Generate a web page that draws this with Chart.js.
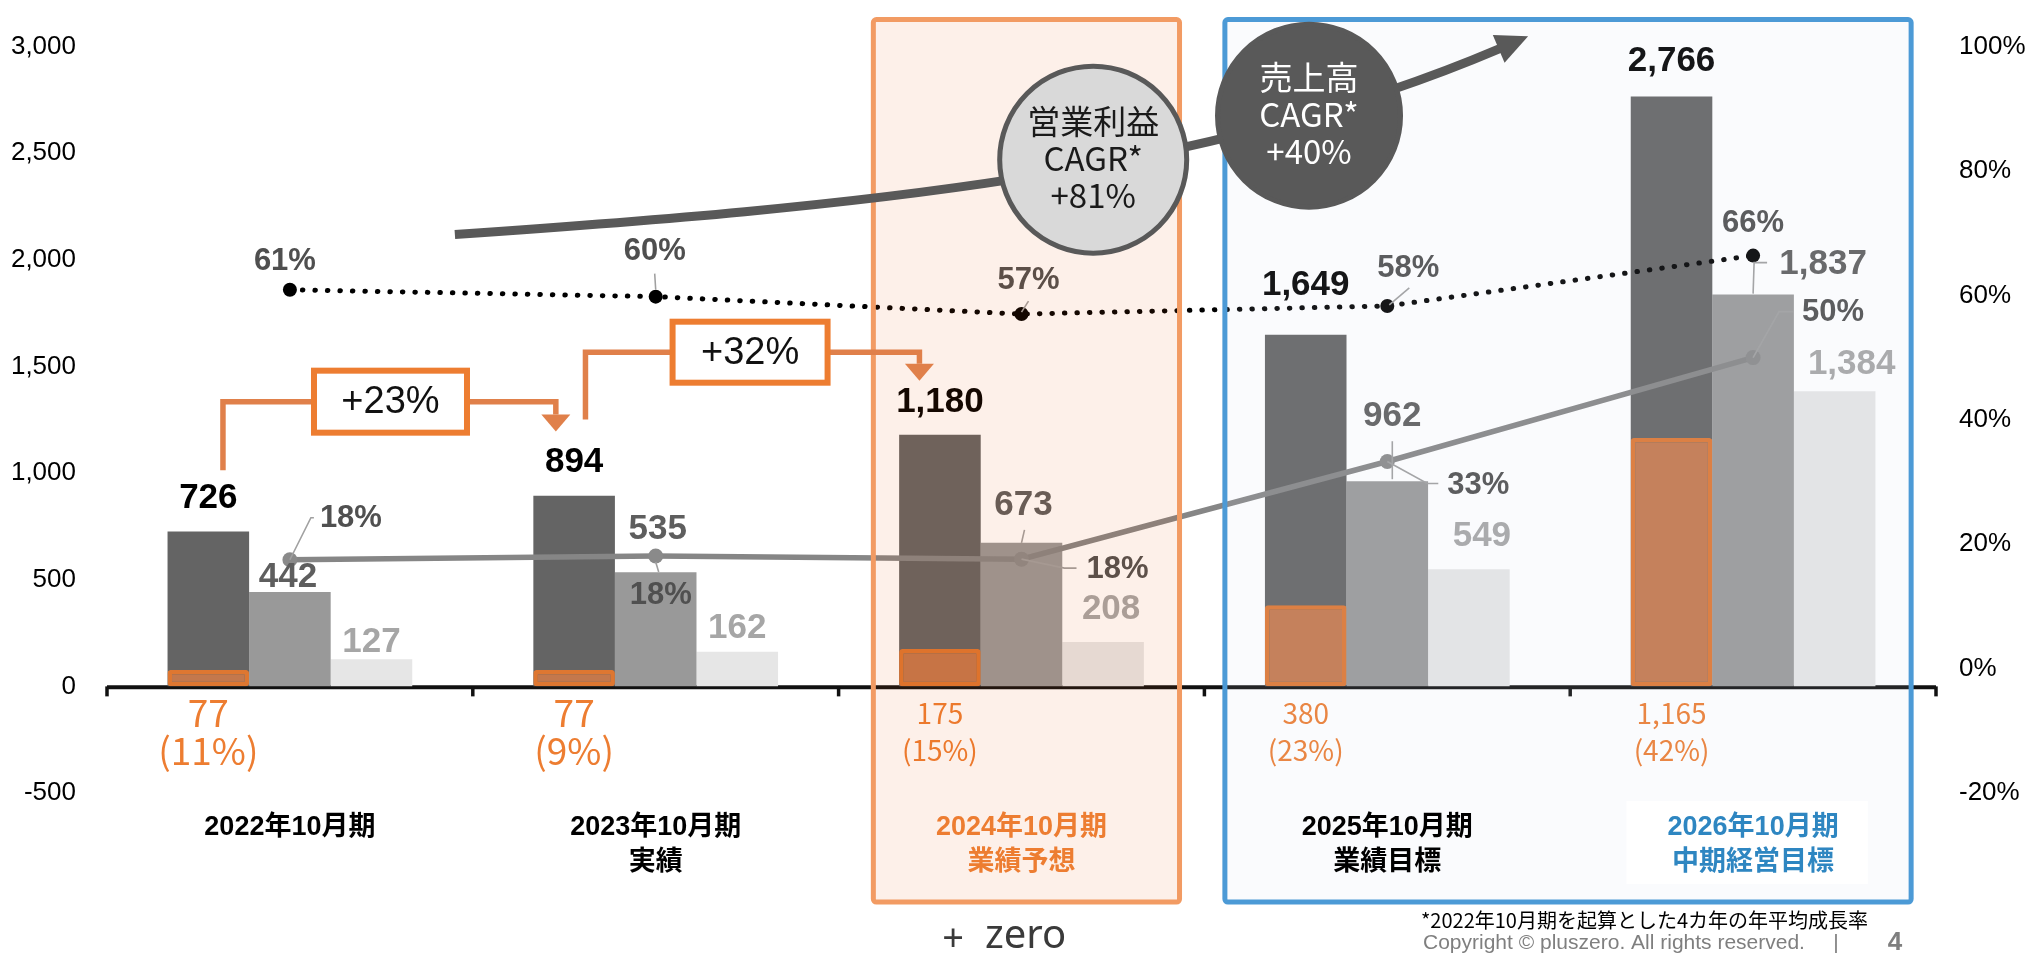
<!DOCTYPE html>
<html lang="ja">
<head>
<meta charset="utf-8">
<title>業績推移</title>
<script src="https://cdn.jsdelivr.net/npm/chart.js@4.4.1/dist/chart.umd.min.js"></script>
<style>
html,body{margin:0;padding:0;background:#ffffff;overflow:hidden;}
canvas{display:block;}
</style>
</head>
<body>
<canvas id="c" width="2032" height="956"></canvas>
<script>
// ---------------- data ----------------
const categories = [
  ['2022年10月期'],
  ['2023年10月期', '実績'],
  ['2024年10月期', '業績予想'],
  ['2025年10月期', '業績目標'],
  ['2026年10月期', '中期経営目標']
];
const revenue = [726, 894, 1180, 1649, 2766];          // 売上高
const grossProfit = [442, 535, 673, 962, 1837];        // 売上総利益
const thirdSeries = [127, 162, 208, 549, 1384];        // 第3系列
const operatingProfit = [77, 77, 175, 380, 1165];      // 営業利益
const operatingMargin = [11, 9, 15, 23, 42];           // 営業利益率 %
const grossMargin = [60.9, 59.8, 57.0, 58.3, 66.4];    // 売上総利益率 %
const thirdRatio = [17.5, 18.1, 17.6, 33.3, 50.0];     // 第3系列 / 売上高 %
const leftTicks = [-500, 0, 500, 1000, 1500, 2000, 2500, 3000];
const rightTicks = [-20, 0, 20, 40, 60, 80, 100];
const growthLabels = ['+23%', '+32%'];
const cagrOperating = '+81%';
const cagrRevenue = '+40%';
const footnote = '*2022年10月期を起算とした4カ年の年平均成長率';
const copyright = 'Copyright © pluszero. All rights reserved.';
const pageNumber = '4';

// ---------------- styles ----------------
const LAT = '"Liberation Sans", "Noto Sans CJK JP", sans-serif';
const JP = '"Noto Sans CJK JP", sans-serif';
const tickColors = ['#000000', '#000000', '#ED7D31', '#000000', '#2E86C1'];

const S = {
  rev: {font: `bold 35px ${LAT}`, color: '#000000', off: [[0,-33],[0,-33],[0,-32],[0,-49],[0,-35]]},
  gp: {font: `bold 35px ${LAT}`, color: '#5e5e5e', off: [[-2,-15],[2,-43],[2,-38],[5,-65],[70,-30]],
       leaders: [null, null, [[3,-13],[0,0]], [[5,-40],[5,-2]], [[14,-32],[1,-32],[0,-1]]]},
  th: {font: `bold 35px ${LAT}`, color: '#a6a6a6', off: [[0,-17],[0,-23],[8,-33],[13,-33],[17,-27]]},
  gm: {font: `bold 31px ${LAT}`, color: '#4f4f4f', off: [[-5,-28],[-1,-45],[7,-34],[21,-38],[0,-32]],
       leaders: [null, [[-1,-23],[0,-7]], [[7,-13],[0,-2]], [[22,-18],[2,-1]], null]},
  tr: {font: `bold 31px ${LAT}`, color: '#505050', off: [[61,-41],[5,39],[96,10],[91,24],[80,-45]],
       leaders: [[[0,0],[21,-42],[24,-42]], [[0,6],[3,16]], [[0,0],[43,9],[55,9]], [[0,0],[40,22],[51,22]], [[0,0],[26,-46],[40,-46]]]},
  op: {color: '#ED7D31', sizes: [37, 37, 28, 28, 28], dy1: 27, dy2: 65}
};

// annotation geometry in data units (x: category index, y: left-axis value)
const growthArrows = [
  {text: growthLabels[0], startX: -0.183, startY: 1014, levelY: 1335, boxX: 0.275, boxW: 153, boxH: 62, tipX: 0.727, tipY: 1195},
  {text: growthLabels[1], startX: 0.808, startY: 1251, levelY: 1567, boxX: 1.258, boxW: 155, boxH: 61, tipX: 1.721, tipY: 1433}
];
const cagrCurve = {p: [[0.451, 2119], [1.545, 2249], [2.488, 2393], [3.309, 2992]], tip: [3.385, 3048]};
const bubbles = [
  {x: 2.196, y: 2470, r: 96, fill: '#D9D9D9', stroke: '#595959', color: '#1a1a1a', lines: ['営業利益', 'CAGR*', cagrOperating]},
  {x: 2.786, y: 2676, r: 94, fill: '#595959', stroke: '#595959', color: '#ffffff', lines: ['売上高', 'CAGR*', cagrRevenue]}
];

function txt(ctx, s, x, y, font, color, align) {
  ctx.font = font; ctx.fillStyle = color;
  ctx.textAlign = align || 'center'; ctx.textBaseline = 'middle';
  ctx.fillText(s, x, y);
}
function poly(ctx, pts, color, w) {
  ctx.beginPath();
  ctx.moveTo(pts[0][0], pts[0][1]);
  for (let i = 1; i < pts.length; i++) ctx.lineTo(pts[i][0], pts[i][1]);
  ctx.strokeStyle = color; ctx.lineWidth = w; ctx.stroke();
}
const fmt = v => v.toLocaleString('en-US');

const decor = {
  id: 'decor',
  beforeDatasetsDraw(chart) {
    const {ctx, chartArea: ca, scales: {x, y}} = chart;
    const zeroY = y.getPixelForValue(0);
    ctx.save();
    // zero axis line + category tick marks
    poly(ctx, [[ca.left, zeroY + 1], [ca.right, zeroY + 1]], '#111111', 4);
    for (let i = 0; i <= categories.length; i++) {
      const px = x.getPixelForValue(i - 0.5);
      poly(ctx, [[px, zeroY], [px, zeroY + 10]], '#111111', 3.5);
    }
    ctx.restore();
  },
  afterDatasetsDraw(chart) {
    const {ctx, chartArea: ca, scales: {x, y}} = chart;
    const zeroY = y.getPixelForValue(0);
    const cw = x.getPixelForValue(1) - x.getPixelForValue(0);
    ctx.save();
    const revMeta = chart.getDatasetMeta(3).data;
    const gpMeta = chart.getDatasetMeta(4).data;
    const thMeta = chart.getDatasetMeta(5).data;
    const gmMeta = chart.getDatasetMeta(0).data;
    const trMeta = chart.getDatasetMeta(1).data;
    const leader = (el, pts) => {
      if (!pts) return;
      poly(ctx, pts.map(p => [el.x + p[0], el.y + p[1]]), '#a0a0a0', 1.6);
    };
    for (let i = 0; i < categories.length; i++) {
      let el = revMeta[i];
      txt(ctx, fmt(revenue[i]), el.x + S.rev.off[i][0], el.y + S.rev.off[i][1], S.rev.font, S.rev.color);
      el = gpMeta[i];
      leader(el, S.gp.leaders[i]);
      txt(ctx, fmt(grossProfit[i]), el.x + S.gp.off[i][0], el.y + S.gp.off[i][1], S.gp.font, S.gp.color);
      el = thMeta[i];
      txt(ctx, fmt(thirdSeries[i]), el.x + S.th.off[i][0], el.y + S.th.off[i][1], S.th.font, S.th.color);
      el = gmMeta[i];
      leader(el, S.gm.leaders[i]);
      txt(ctx, Math.round(grossMargin[i]) + '%', el.x + S.gm.off[i][0], el.y + S.gm.off[i][1], S.gm.font, S.gm.color);
      el = trMeta[i];
      leader(el, S.tr.leaders[i]);
      txt(ctx, Math.round(thirdRatio[i]) + '%', el.x + S.tr.off[i][0], el.y + S.tr.off[i][1], S.tr.font, S.tr.color);
      // operating profit labels under axis
      const f = `${S.op.sizes[i]}px ${JP}`;
      txt(ctx, fmt(operatingProfit[i]), revMeta[i].x, zeroY + S.op.dy1, f, S.op.color);
      txt(ctx, '(' + operatingMargin[i] + '%)', revMeta[i].x, zeroY + S.op.dy2 - (S.op.sizes[i] > 30 ? 0 : 1), f, S.op.color);
    }
    // highlight boxes
    const boxTop = ca.top - 27, boxBot = ca.bottom + 109;
    const oL = x.getPixelForValue(1.595), oR = x.getPixelForValue(2.432);
    const bL = x.getPixelForValue(2.556), bR = x.getPixelForValue(4.432);
    ctx.fillStyle = 'rgba(231,80,0,0.085)';
    ctx.fillRect(oL, boxTop, oR - oL, boxBot - boxTop);
    ctx.fillStyle = 'rgba(205,215,232,0.10)';
    ctx.fillRect(bL, boxTop, bR - bL, boxBot - boxTop);
    ctx.lineWidth = 5;
    ctx.strokeStyle = '#F29B63';
    ctx.beginPath(); ctx.roundRect(oL, boxTop, oR - oL, boxBot - boxTop, 3); ctx.stroke();
    ctx.strokeStyle = '#4C9AD6';
    ctx.beginPath(); ctx.roundRect(bL, boxTop, bR - bL, boxBot - boxTop, 3); ctx.stroke();
    // white plate behind last category label
    const wc = x.getPixelForValue(4) - 6;
    ctx.fillStyle = '#ffffff';
    ctx.fillRect(wc - 0.33 * cw, ca.bottom + 8, 0.66 * cw, 83);
    ctx.restore();
  },
  afterDraw(chart) {
    const {ctx, scales: {x, y}} = chart;
    const P = (cx, vy) => [x.getPixelForValue(cx), y.getPixelForValue(vy)];
    ctx.save();
    // growth arrows
    growthArrows.forEach(g => {
      const s = P(g.startX, g.startY), lv = P(g.startX, g.levelY)[1], t = P(g.tipX, g.tipY), bx = P(g.boxX, g.levelY);
      const headH = 17, headW = 14.5;
      ctx.lineCap = 'butt';
      poly(ctx, [s, [s[0], lv], [t[0], lv], [t[0], t[1] - headH]], '#E0804A', 5.5);
      ctx.beginPath();
      ctx.moveTo(t[0], t[1]); ctx.lineTo(t[0] - headW, t[1] - headH); ctx.lineTo(t[0] + headW, t[1] - headH); ctx.closePath();
      ctx.fillStyle = '#E0804A'; ctx.fill();
      ctx.fillStyle = '#ffffff';
      ctx.fillRect(bx[0] - g.boxW / 2, bx[1] - g.boxH / 2, g.boxW, g.boxH);
      ctx.lineWidth = 6; ctx.strokeStyle = '#ED7D31';
      ctx.strokeRect(bx[0] - g.boxW / 2, bx[1] - g.boxH / 2, g.boxW, g.boxH);
      txt(ctx, g.text, bx[0], bx[1] + 1, `38px ${LAT}`, '#111111');
    });
    // CAGR curve arrow
    const cp = cagrCurve.p.map(p => P(p[0], p[1]));
    ctx.beginPath();
    ctx.moveTo(cp[0][0], cp[0][1]);
    ctx.bezierCurveTo(cp[1][0], cp[1][1], cp[2][0], cp[2][1], cp[3][0], cp[3][1]);
    ctx.strokeStyle = '#595959'; ctx.lineWidth = 9; ctx.stroke();
    const tip = P(cagrCurve.tip[0], cagrCurve.tip[1]);
    const dx = tip[0] - cp[2][0], dy = tip[1] - cp[2][1], dl = Math.hypot(dx, dy);
    const ux = dx / dl, uy = dy / dl, L = 32, W = 15;
    const bxp = tip[0] - ux * L, byp = tip[1] - uy * L;
    ctx.beginPath();
    ctx.moveTo(tip[0], tip[1]);
    ctx.lineTo(bxp - uy * W, byp + ux * W);
    ctx.lineTo(bxp + uy * W, byp - ux * W);
    ctx.closePath(); ctx.fillStyle = '#595959'; ctx.fill();
    // bubbles
    bubbles.forEach(b => {
      const c = P(b.x, b.y);
      ctx.beginPath(); ctx.arc(c[0], c[1], b.r - 2.5, 0, Math.PI * 2);
      ctx.fillStyle = b.fill; ctx.fill();
      ctx.lineWidth = 5; ctx.strokeStyle = b.stroke; ctx.stroke();
      b.lines.forEach((l, k) => txt(ctx, l, c[0], c[1] + (k - 1) * 37 - 1, `33px ${JP}`, b.color));
    });
    // footer
    const W2 = chart.width, H2 = chart.height;
    txt(ctx, footnote, W2 - 611, H2 - 36, `20px ${JP}`, '#000000', 'left');
    txt(ctx, copyright, W2 - 609, H2 - 13, `21px ${LAT}`, '#7f7f7f', 'left');
    txt(ctx, '|', W2 - 196, H2 - 13, `21px ${LAT}`, '#7f7f7f');
    txt(ctx, pageNumber, W2 - 137, H2 - 13, `bold 26px ${LAT}`, '#7f7f7f');
    txt(ctx, '+', W2 / 2 - 63, H2 - 16, `38px "Noto Sans", sans-serif`, '#3a3a3a');
    txt(ctx, 'zero', W2 / 2 - 31, H2 - 19, `40px "Noto Sans", sans-serif`, '#3a3a3a', 'left');
    ctx.restore();
  }
};

new Chart(document.getElementById('c'), {
  type: 'bar',
  data: {
    labels: categories,
    datasets: [
      {type: 'line', label: '売上総利益率', data: grossMargin, yAxisID: 'y2',
       borderColor: '#000000', borderWidth: 5, borderDash: [0.5, 12], borderCapStyle: 'round',
       pointRadius: 7, pointBackgroundColor: '#000000', pointBorderWidth: 0, tension: 0},
      {type: 'line', label: '比率', data: thirdRatio, yAxisID: 'y2',
       borderColor: '#868686', borderWidth: 5.5,
       pointRadius: 7.5, pointBackgroundColor: '#8a8a8a', pointBorderWidth: 0, tension: 0},
      {type: 'bar', label: '営業利益', data: operatingProfit, yAxisID: 'y', stack: 'a',
       backgroundColor: '#C4784C', borderColor: 'rgba(232,120,45,0.92)', borderWidth: 4.5,
       borderSkipped: false, borderRadius: 3},
      {type: 'bar', label: '売上高', data: revenue, yAxisID: 'y', stack: 'a', backgroundColor: '#646464'},
      {type: 'bar', label: '売上総利益', data: grossProfit, yAxisID: 'y', stack: 'b', backgroundColor: '#999999'},
      {type: 'bar', label: '第3系列', data: thirdSeries, yAxisID: 'y', stack: 'c', backgroundColor: '#E6E6E6'}
    ]
  },
  options: {
    responsive: false,
    animation: false,
    devicePixelRatio: 1,
    layout: {padding: {top: 39, bottom: 0, left: 0, right: 0}},
    datasets: {bar: {categoryPercentage: 0.669, barPercentage: 1.0}},
    plugins: {legend: {display: false}, tooltip: {enabled: false}},
    scales: {
      x: {
        position: 'bottom',
        grid: {display: false, drawTicks: false},
        border: {display: false},
        ticks: {
          z: 1, padding: 16.5, autoSkip: false, maxRotation: 0,
          font: {family: LAT, size: 27, weight: 'bold', lineHeight: 1.3},
          color: c => tickColors[c.index]
        },
        afterFit: s => { s.height = 163; }
      },
      y: {
        position: 'left', stacked: false,
        min: leftTicks[0], max: leftTicks[leftTicks.length - 1],
        afterBuildTicks: s => { s.ticks = leftTicks.map(v => ({value: v})); },
        grid: {display: false, drawTicks: false},
        border: {display: false},
        ticks: {padding: 31, color: '#000000', font: {family: LAT, size: 26}, callback: v => fmt(v)},
        afterFit: s => { s.width = 107; }
      },
      y2: {
        position: 'right',
        min: rightTicks[0], max: rightTicks[rightTicks.length - 1],
        afterBuildTicks: s => { s.ticks = rightTicks.map(v => ({value: v})); },
        grid: {display: false, drawTicks: false},
        border: {display: false},
        ticks: {padding: 23, color: '#000000', font: {family: LAT, size: 26}, callback: v => v + '%'},
        afterFit: s => { s.width = 96; }
      }
    }
  },
  plugins: [decor]
});
</script>
</body>
</html>
